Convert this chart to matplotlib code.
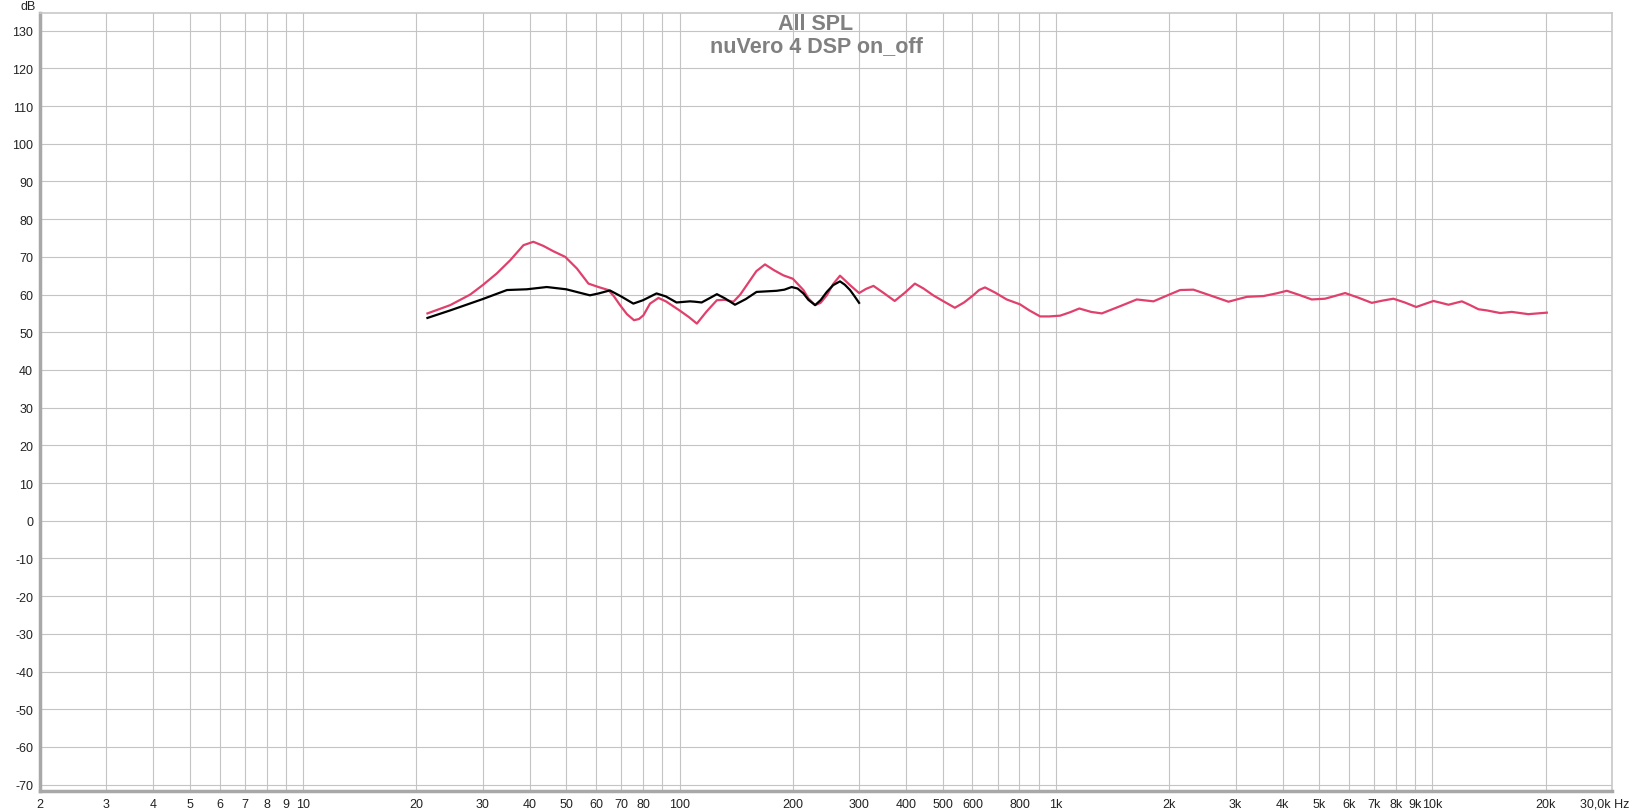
import matplotlib
matplotlib.use('Agg')
import matplotlib.pyplot as plt
import numpy as np

dsp_freq = [21.4, 24.6, 27.8, 30, 32.7, 35.5, 38.5, 40.9, 43.5, 46.2, 49.7, 53.4,
            57.3, 60.9, 64.7, 67, 69.5, 72.5, 75.7, 78, 80.2, 83.5, 87.9, 92, 100,
            106, 111.2, 118, 125.7, 132, 139.1, 145, 150.9, 160, 168.7, 178, 188.7,
            200, 213.4, 220, 229.2, 237, 246.2, 256, 266.9, 275, 283.8,
            300, 313, 327.6, 350, 373, 397, 422, 445, 472, 505, 539, 570, 603, 625,
            648, 690, 740, 803, 850, 908, 960, 1026, 1090, 1154, 1240,
            1324, 1480, 1640, 1816, 1980, 2138, 2318, 2566, 2874, 3050, 3217, 3559,
            3850, 4107, 4430, 4782, 5188, 5500, 5866, 6350, 6905, 7380, 7880, 8450,
            9060, 9550, 10070, 10550, 11040, 11980, 12600, 13260, 13950,
            15140, 16260, 17990, 20140]
dsp_db = [55.0, 57.2, 60.0, 62.5, 65.6, 69.1, 73.1, 74.0, 72.9, 71.5, 70.0, 66.9,
          62.9, 62.0, 61.2, 59.5, 57.2, 54.8, 53.2, 53.5, 54.5, 57.6, 59.1, 58.2, 55.8,
          54.0, 52.3, 55.5, 58.5, 58.6, 58.1, 60.0, 62.5, 66.2, 68.0, 66.5, 65.1,
          64.2, 61.2, 59.0, 57.2, 57.8, 59.8, 62.8, 65.0, 63.8, 62.5,
          60.4, 61.5, 62.3, 60.3, 58.3, 60.5, 62.9, 61.6, 59.8, 58.1, 56.5, 57.9, 59.8, 61.2,
          61.9, 60.5, 58.7, 57.4, 55.8, 54.2, 54.2, 54.4, 55.3, 56.3, 55.4,
          55.0, 56.9, 58.7, 58.2, 59.8, 61.2, 61.3, 59.8, 58.1, 58.8, 59.4, 59.6,
          60.3, 61.0, 59.9, 58.7, 58.9, 59.6, 60.4, 59.2, 57.8, 58.4, 58.9, 57.9,
          56.7, 57.5, 58.3, 57.8, 57.3, 58.2, 57.2, 56.1, 55.8,
          55.1, 55.4, 54.8, 55.2]

off_freq = [21.4, 24.6, 30, 34.8, 39.3, 44.4, 50, 57.8, 61, 65.3, 70, 75.4, 80,
            86.9, 92, 98.2, 106.6, 110, 114.5, 120, 125.7, 132, 140.4, 150, 160.2,
            181.2, 190, 198.6, 206, 213.4, 220, 229.2, 237, 246.2, 256, 266.9,
            275, 283.8, 292, 300]
off_db = [53.8, 55.8, 58.8, 61.2, 61.4, 62.0, 61.4, 59.8, 60.3, 61.1, 59.5, 57.6, 58.5,
          60.3, 59.5, 57.9, 58.2, 58.1, 57.9, 59.0, 60.1, 59.0, 57.3, 58.8, 60.7,
          61.0, 61.3, 62.0, 61.6, 60.3, 58.6, 57.2, 58.5, 60.7, 62.5, 63.5,
          62.6, 61.2, 59.5, 57.8]

x_ticks = [2, 3, 4, 5, 6, 7, 8, 9, 10, 20, 30, 40, 50, 60, 70, 80, 90, 100,
           200, 300, 400, 500, 600, 700, 800, 900, 1000, 2000, 3000, 4000, 5000,
           6000, 7000, 8000, 9000, 10000, 20000, 30000]
x_labels = ['2', '3', '4', '5', '6', '7', '8', '9', '10', '20', '30', '40', '50',
            '60', '70', '80', '', '100', '200', '300', '400', '500', '600', '',
            '800', '', '1k', '2k', '3k', '4k', '5k', '6k', '7k', '8k', '9k', '10k',
            '20k', '']
last_label = '30,0k Hz'
y_ticks = list(range(-70, 140, 10))

fig = plt.figure(figsize=(16.32, 8.12), dpi=100)
ax = fig.add_axes([0.0245, 0.0246, 0.9632, 0.9582])

ax.plot(off_freq, off_db, color='black', lw=1.6, zorder=3, solid_joinstyle='round')
ax.plot(dsp_freq, dsp_db, color='#e0406c', lw=1.6, zorder=2, solid_joinstyle='round')

ax.set_xscale('log')
ax.set_xlim(2, 30000)
ax.set_ylim(-71.7, 134.7)
ax.set_xticks(x_ticks)
ax.set_xticklabels(x_labels)
ax.xaxis.set_minor_locator(matplotlib.ticker.NullLocator())
ax.set_yticks(y_ticks)
ax.set_yticklabels([str(v) for v in y_ticks])
ax.tick_params(length=0, labelsize=9, colors='#222222', pad=5)
for lab in ax.get_xticklabels() + ax.get_yticklabels():
    lab.set_family('Liberation Sans')
ax.grid(True, color='#c4c4c4', lw=0.8)

for side in ('left', 'bottom'):
    ax.spines[side].set_color('#a8a8a8')
    ax.spines[side].set_linewidth(2.5)
for side in ('top', 'right'):
    ax.spines[side].set_color('#c8c8c8')
    ax.spines[side].set_linewidth(1.2)

# last tick label sits at the right edge, keep it inside the figure
fig.text(1629 / 1632, 1 - 799 / 812, last_label, ha='right', va='top',
         fontsize=9, family='Liberation Sans', color='#222222')
fig.text(28 / 1632, 1 - 7 / 812, 'dB', ha='center', va='center', fontsize=9,
         family='Liberation Sans', color='#222222')
fig.text(0.5, 1 - 24 / 812, 'All SPL', ha='center', va='center', fontsize=15.5,
         fontweight='bold', family='Liberation Sans', color='#808080')
fig.text(0.5, 1 - 47 / 812, 'nuVero 4 DSP on_off', ha='center', va='center',
         fontsize=15.5, fontweight='bold', family='Liberation Sans', color='#808080')

fig.savefig('out.png', dpi=100)
